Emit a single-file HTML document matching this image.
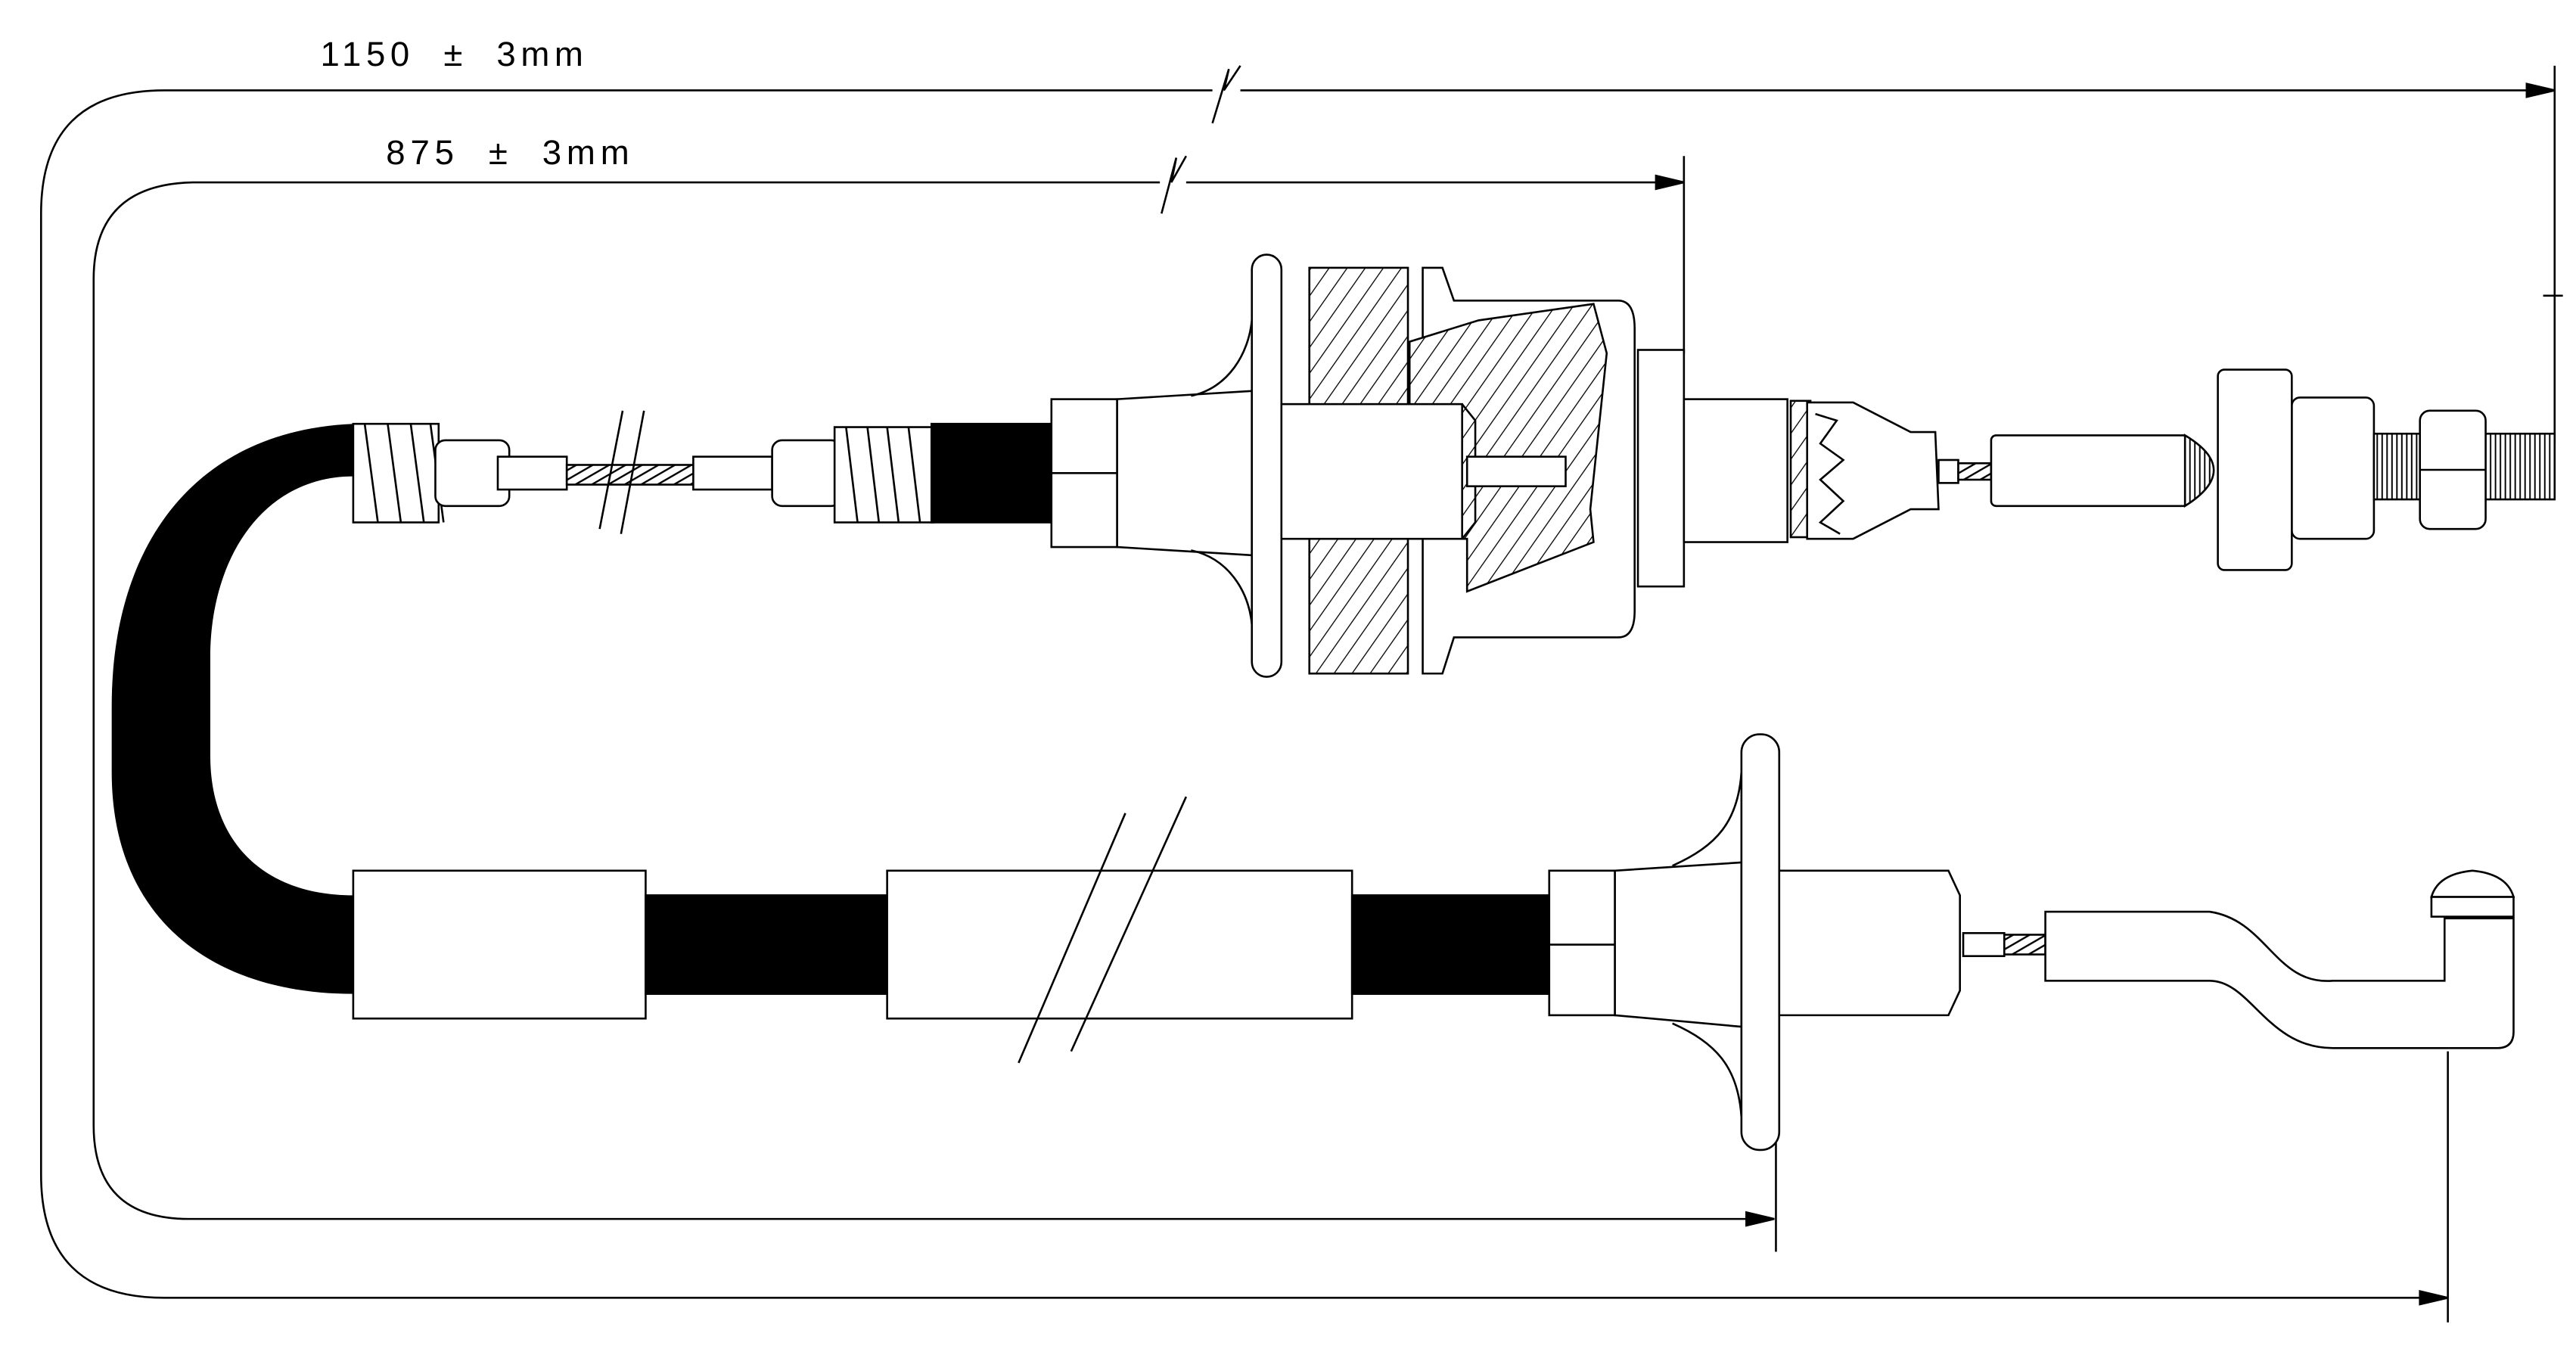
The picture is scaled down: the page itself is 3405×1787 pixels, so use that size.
<!DOCTYPE html>
<html><head><meta charset="utf-8"><style>
html,body{margin:0;padding:0;background:#fff;width:3405px;height:1787px;overflow:hidden}
svg{display:block}
</style></head><body>
<svg width="3405" height="1787" viewBox="0 0 1568 823" preserveAspectRatio="none" xmlns="http://www.w3.org/2000/svg">
<defs>
<pattern id="h" width="9" height="9" patternUnits="userSpaceOnUse" patternTransform="rotate(35)">
<rect width="9" height="9" fill="#fff"/><line x1="0" y1="0" x2="0" y2="9" stroke="#000" stroke-width="1.2"/></pattern>
<pattern id="w" width="5" height="5" patternUnits="userSpaceOnUse" patternTransform="rotate(60)">
<rect width="5" height="5" fill="#fff"/><line x1="0" y1="0" x2="0" y2="5" stroke="#000" stroke-width="2.2"/></pattern>
<pattern id="t" width="3" height="3" patternUnits="userSpaceOnUse">
<rect width="3" height="3" fill="#fff"/><line x1="1" y1="0" x2="1" y2="3" stroke="#000" stroke-width="0.9"/></pattern>
</defs>
<g fill="none" stroke="#000" stroke-width="1.2">
<path d="M1490,790 L100,790 Q25,790 25,715 L25,130 Q25,55 100,55 L738,55 M755,55 L1555,55"/>
<path d="M738,75 L748,42 L745,55 L755,40" />
<path d="M1555,40 L1555,270 M1490,640 L1490,805 M1548,180 L1560,180"/>
<polygon points="1555,55 1538,51 1538,59" fill="#000"/>
<polygon points="1490,790 1473,786 1473,794" fill="#000"/>
<path d="M1080,742 L115,742 Q57,742 57,685 L57,170 Q57,111 120,111 L706,111 M722,111 L1025,111"/>
<path d="M707,130 L716,96 L713,111 L722,95"/>
<path d="M1025,95 L1025,215 M1081,690 L1081,762"/>
<polygon points="1025,111 1008,107 1008,115" fill="#000"/>
<polygon points="1080,742 1063,738 1063,746" fill="#000"/>
</g>
<text x="195" y="40" font-family="Liberation Sans, sans-serif" font-size="21" textLength="160" lengthAdjust="spacing">1150&#160;&#160;±&#160;&#160;3mm</text>
<text x="235" y="100" font-family="Liberation Sans, sans-serif" font-size="21" textLength="148" lengthAdjust="spacing">875&#160;&#160;±&#160;&#160;3mm</text>

<path d="M215,258 C120,262 68,330 68,430 L68,470 C68,560 130,605 215,605 L215,545 C160,545 128,512 128,460 L128,400 C128,340 160,290 215,290 Z" fill="#000"/>

<g stroke="#000" stroke-width="1.2" fill="#fff">
<rect x="215" y="258" width="52" height="60"/>
<path d="M222,258 L230,318 M236,258 L244,318 M250,258 L258,318 M262,258 L270,318" fill="none"/>
<rect x="265" y="268" width="45" height="40" rx="6"/>
<rect x="303" y="278" width="42" height="20"/>
<rect x="345" y="283" width="85" height="12" fill="url(#w)"/>
<path d="M379,250 L365,322 M392,250 L378,325" fill="none"/>
<rect x="422" y="278" width="48" height="20"/>
<rect x="470" y="268" width="42" height="40" rx="6"/>
<rect x="508" y="260" width="60" height="58"/>
<path d="M515,260 L522,318 M528,260 L535,318 M540,260 L547,318 M553,260 L560,318" fill="none"/>
<rect x="567" y="258" width="73" height="60" fill="#000"/>
<rect x="640" y="243" width="40" height="90"/>
<line x1="640" y1="288" x2="680" y2="288"/>
<path d="M680,243 L762,238 L762,338 L680,333 Z"/>
<path d="M725,241 C748,236 760,215 762,195 M725,335 C748,340 760,360 762,380" fill="none"/>
<rect x="762" y="155" width="18" height="257" rx="9"/>
<rect x="797" y="163" width="60" height="247" fill="url(#h)"/>
<path d="M866,163 L878,163 L885,183 L985,183 Q995,183 995,200 L995,372 Q995,388 985,388 L885,388 L878,410 L866,410 Z"/>
<path d="M858,208 L900,195 L970,185 L978,215 L968,310 L970,330 L893,360 L893,328 L858,328 L858,246 Z" fill="url(#h)"/>
<rect x="780" y="246" width="110" height="82"/>
<path d="M890,246 L898,256 L898,318 L890,328" fill="none"/>
<rect x="893" y="278" width="60" height="18"/>
<rect x="997" y="213" width="28" height="144"/>
<rect x="1025" y="243" width="63" height="87"/>
<rect x="1090" y="244" width="12" height="83" fill="url(#h)"/>
<path d="M1100,245 L1128,245 L1163,263 L1178,263 L1180,310 L1163,310 L1128,328 L1100,328 Z"/>
<path d="M1105,252 L1118,256 L1108,270 L1122,280 L1108,292 L1122,305 L1108,318 L1120,325" fill="none"/>
<rect x="1180" y="280" width="12" height="14"/>
<rect x="1192" y="282" width="20" height="10" fill="url(#w)"/>
<rect x="1212" y="265" width="120" height="43" rx="3"/>
<path d="M1330,265 Q1365,286 1330,308 Z" fill="url(#t)"/>
<rect x="1395" y="242" width="50" height="86" rx="5"/>
<rect x="1350" y="225" width="45" height="122" rx="4"/>
<rect x="1445" y="264" width="110" height="40" fill="url(#t)"/>
<rect x="1473" y="250" width="40" height="72" rx="6"/>
<line x1="1473" y1="286" x2="1513" y2="286"/>

<rect x="215" y="530" width="178" height="90"/>
<rect x="393" y="545" width="147" height="60" fill="#000"/>
<rect x="540" y="530" width="283" height="90"/>
<rect x="823" y="545" width="120" height="60" fill="#000"/>
<path d="M620,647 L685,495 M652,640 L722,485" fill="none"/>
<rect x="943" y="530" width="40" height="88"/>
<line x1="943" y1="575" x2="983" y2="575"/>
<path d="M983,530 L1060,525 L1060,625 L983,618 Z"/>
<path d="M1018,527 C1045,515 1058,500 1060,470 M1018,623 C1045,635 1058,650 1060,680" fill="none"/>
<rect x="1060" y="447" width="23" height="253" rx="11"/>
<path d="M1083,530 L1186,530 L1193,545 L1193,603 L1186,618 L1083,618 Z"/>
<rect x="1195" y="568" width="25" height="14"/>
<rect x="1220" y="569" width="25" height="12" fill="url(#w)"/>
<path d="M1245,555 L1345,555 C1380,560 1385,600 1420,597 L1488,597 L1488,559 L1530,559 L1530,628 Q1530,638 1520,638 L1420,638 C1380,638 1370,597 1345,597 L1245,597 Z"/>
<path d="M1480,546 Q1484,532 1505,530 Q1526,532 1530,546 Z"/>
<rect x="1480" y="546" width="50" height="12"/>
</g>
</svg>
</body></html>
